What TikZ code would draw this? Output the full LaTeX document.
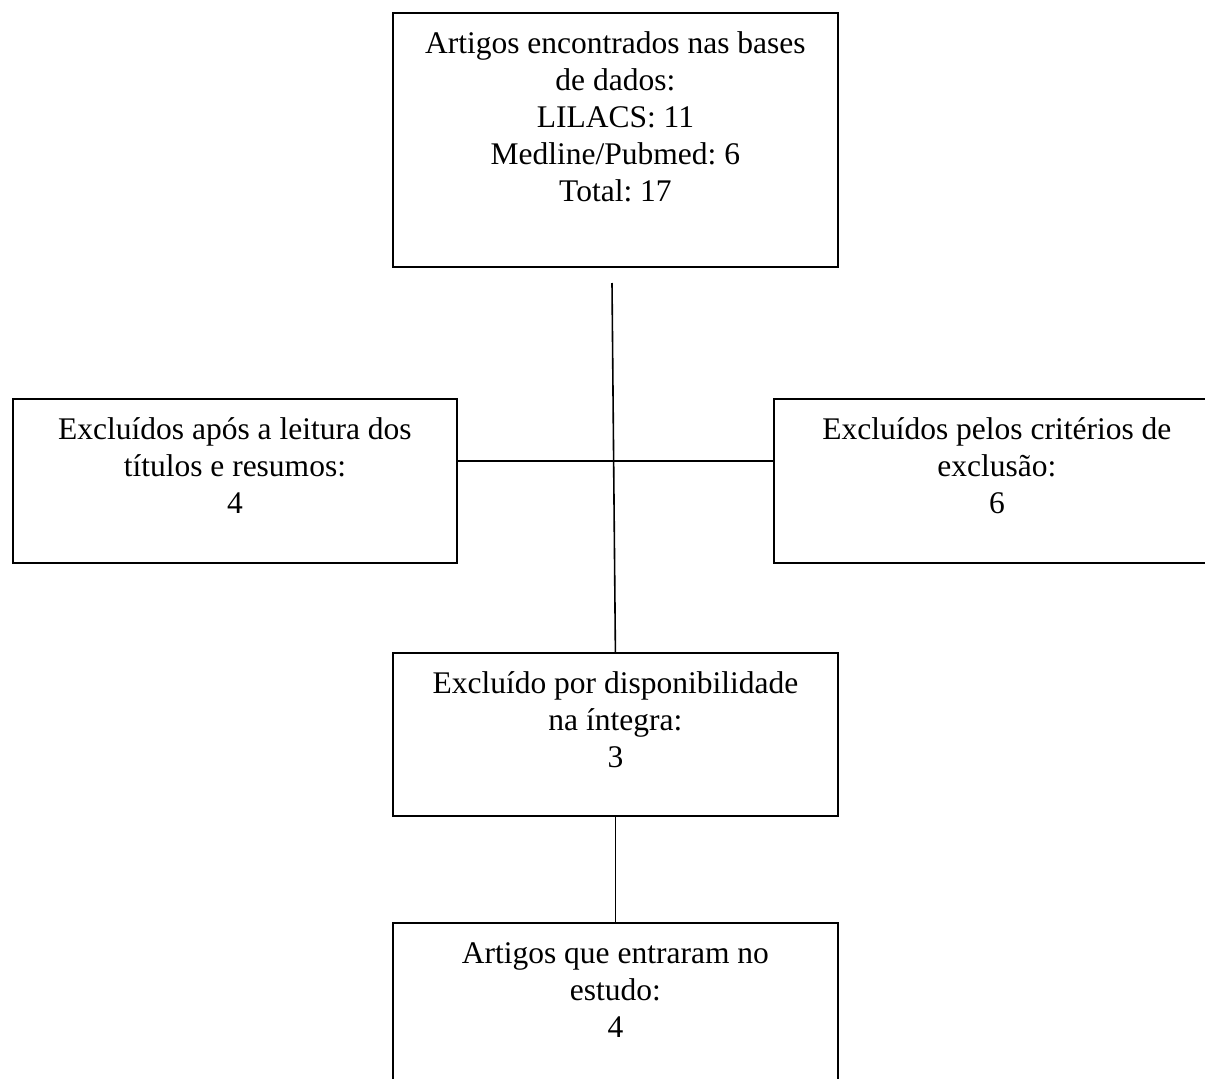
\documentclass[tikz,border=0pt]{standalone}
\usepackage{fontspec}
\setmainfont{Liberation Serif}
\frenchspacing

\newcommand{\boxtext}[3]{\parbox[t][#2][t]{#1}{\centering\vspace*{15pt}\strut #3}}

\tikzset{
  boxnode/.style={draw, line width=1.8pt, inner sep=0pt, anchor=north west,
    font=\fontsize{31.5}{37}\selectfont},
  link/.style={line width=1.6pt}
}

\begin{document}
\begin{tikzpicture}[x=1pt, y=-1pt]
\clip (0,0) rectangle (1205,1079);

% boxes
\node[boxnode] (bases) at (392,12) {\boxtext{445pt}{254pt}{Artigos encontrados nas bases\\ de dados:\\ LILACS: 11\\ Medline/Pubmed: 6\\ Total: 17}};
\node[boxnode] (titulos) at (12,398) {\boxtext{444pt}{164pt}{Excluídos após a leitura dos\\ títulos e resumos:\\ 4}};
\node[boxnode] (criterios) at (773,398) {\boxtext{446pt}{164pt}{Excluídos pelos critérios de\\ exclusão:\\ 6}};
\node[boxnode] (dispon) at (392,652) {\boxtext{445pt}{163pt}{Excluído por disponibilidade\\ na íntegra:\\ 3}};
\node[boxnode] (estudo) at (392,922) {\boxtext{445pt}{200pt}{Artigos que entraram no\\ estudo:\\ 4}};

% connectors
\coordinate (split) at (612,283);
\draw[link] (split) -- (dispon.north);
\draw[link] ([yshift=20pt]titulos.east) -- ([yshift=20pt]criterios.west);
\draw[link] (dispon.south) -- (estudo.north);
\end{tikzpicture}
\end{document}
